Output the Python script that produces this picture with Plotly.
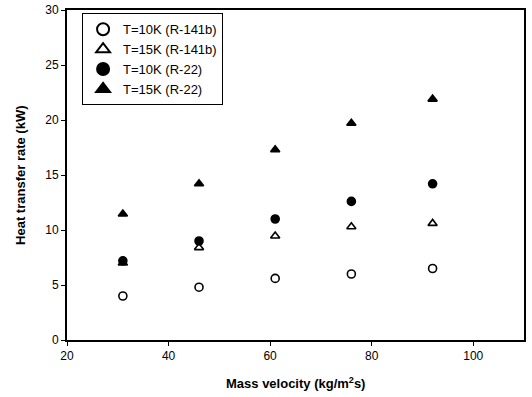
import plotly.graph_objects as go

mass_velocity = [31, 46, 61, 76, 92]
t10_r141b = [4.0, 4.8, 5.6, 6.0, 6.5]
t15_r141b = [7.0, 8.4, 9.45, 10.3, 10.6]
t10_r22 = [7.2, 9.0, 11.0, 12.6, 14.2]
t15_r22 = [11.45, 14.2, 17.3, 19.7, 21.9]

series = [
    ("T=10K (R-141b)", t10_r141b, "circle-open"),
    ("T=15K (R-141b)", t15_r141b, "triangle-up-open"),
    ("T=10K (R-22)", t10_r22, "circle"),
    ("T=15K (R-22)", t15_r22, "triangle-up"),
]

fig = go.Figure()
for name, ys, sym in series:
    fig.add_trace(go.Scatter(
        x=mass_velocity, y=ys, mode="markers", name=name,
        marker=dict(symbol=sym, size=8, color="black",
                    line=dict(color="black", width=1.6)),
    ))

font = "Liberation Sans, Arial, sans-serif"
fig.update_layout(
    width=532, height=397,
    margin=dict(l=67, r=8, t=10, b=57),
    paper_bgcolor="white", plot_bgcolor="white",
    font=dict(family=font, size=12, color="black"),
    showlegend=True,
    legend=dict(x=0.033, y=0.99, xanchor="left", yanchor="top",
                bordercolor="black", borderwidth=1, bgcolor="white",
                font=dict(size=13, family=font), itemsizing="constant",
                tracegroupgap=0),
    xaxis=dict(range=[20, 110], tickvals=[20, 40, 60, 80, 100],
               showline=True, linecolor="black", linewidth=2, mirror=True,
               ticks="outside", ticklen=4, tickcolor="black", showgrid=False,
               zeroline=False, automargin=False, ticklabeloverflow="allow",
               tickfont=dict(size=12)),
    yaxis=dict(range=[0, 30], tickvals=[0, 5, 10, 15, 20, 25, 30],
               showline=True, linecolor="black", linewidth=2, mirror=True,
               ticks="outside", ticklen=4, tickcolor="black", showgrid=False,
               zeroline=False, automargin=False, ticklabeloverflow="allow",
               tickfont=dict(size=12)),
    annotations=[
        dict(text="<b>Mass velocity (kg/m<sup>2</sup>s)</b>", xref="paper", yref="paper",
             x=0.5, y=-0.13, xanchor="center", yanchor="middle", showarrow=False,
             font=dict(size=13, family=font)),
        dict(text="<b>Heat transfer rate (kW)</b>", xref="paper", yref="paper",
             x=-0.103, y=0.5, xanchor="center", yanchor="middle", showarrow=False,
             textangle=-90, font=dict(size=13, family=font)),
    ],
)

fig.write_html("out.html", config={"displayModeBar": False},
               post_script="document.body.style.margin='0';")
